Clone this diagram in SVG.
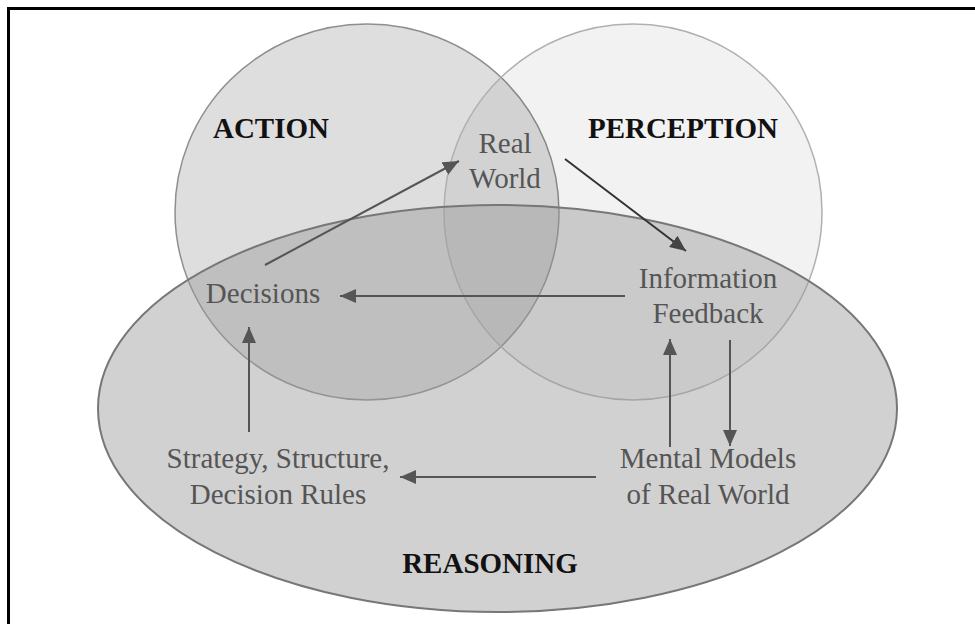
<svg xmlns="http://www.w3.org/2000/svg" width="975" height="624" viewBox="0 0 975 624">
<style>
.lbl{font-family:"Liberation Serif",Tinos,"Times New Roman","DejaVu Serif",serif;font-size:29px;fill:#555;text-anchor:middle}
.ttl{font-family:"Liberation Serif",Tinos,"Times New Roman","DejaVu Serif",serif;font-size:29px;font-weight:bold;fill:#111;text-anchor:middle}
.con{stroke:#555;stroke-width:2;fill:none;marker-end:url(#ah)}
</style>
<defs>
<marker id="ah" markerUnits="userSpaceOnUse" markerWidth="16" markerHeight="14" refX="16" refY="7" orient="auto">
<path d="M0,0 L16,7 L0,14 z" fill="#555"/>
</marker>
<marker id="ahd" markerUnits="userSpaceOnUse" markerWidth="16" markerHeight="14" refX="16" refY="7" orient="auto">
<path d="M0,0 L16,7 L0,14 z" fill="#444"/>
</marker>
</defs>
<rect x="0" y="0" width="975" height="624" fill="#fff"/>
<path d="M8.5,624 V8.5 H975" fill="none" stroke="#000" stroke-width="3"/>
<g id="action">
<ellipse cx="367" cy="212" rx="192" ry="188" fill="#000" fill-opacity="0.13" stroke="#8f8f8f" stroke-width="1.5"/>
<text class="ttl" x="271" y="138">ACTION</text>
</g>
<g id="perception">
<ellipse cx="633" cy="212" rx="189" ry="188" fill="#000" fill-opacity="0.05" stroke="#b0b0b0" stroke-width="1.5"/>
<text class="ttl" x="683" y="138">PERCEPTION</text>
</g>
<g id="reasoning">
<ellipse cx="497.5" cy="408.5" rx="399.5" ry="203.5" fill="#9a9a9a" fill-opacity="0.45" stroke="#777" stroke-width="2"/>
<text class="ttl" x="490" y="573">REASONING</text>
</g>
<g id="real-world">
<text class="lbl" x="505" y="153">Real</text>
<text class="lbl" x="505" y="188">World</text>
</g>
<g id="decisions">
<text class="lbl" x="263" y="303">Decisions</text>
</g>
<g id="information-feedback">
<text class="lbl" x="708" y="288">Information</text>
<text class="lbl" x="708" y="323">Feedback</text>
</g>
<g id="strategy">
<text class="lbl" x="278" y="468">Strategy, Structure,</text>
<text class="lbl" x="278" y="504">Decision Rules</text>
</g>
<g id="mental-models">
<text class="lbl" x="708" y="468">Mental Models</text>
<text class="lbl" x="708" y="504">of Real World</text>
</g>
<g id="connectors">
<line class="con" x1="265" y1="265" x2="459" y2="161"/>
<line class="con" x1="565" y1="159" x2="686" y2="251" style="stroke:#333;marker-end:url(#ahd)"/>
<line class="con" x1="625" y1="296" x2="340" y2="296"/>
<line class="con" x1="249" y1="432" x2="249" y2="327"/>
<line class="con" x1="670" y1="447" x2="670" y2="339"/>
<line class="con" x1="730" y1="340" x2="730" y2="446"/>
<line class="con" x1="596" y1="477" x2="400" y2="477"/>
</g>
</svg>
